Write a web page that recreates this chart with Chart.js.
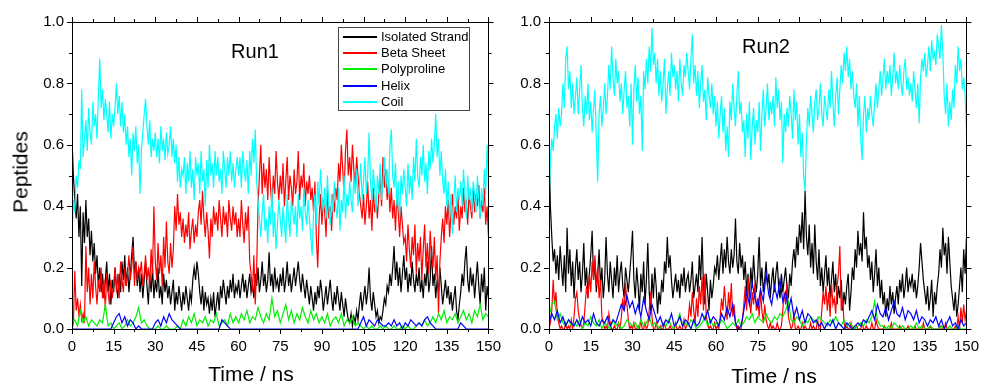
<!DOCTYPE html>
<html>
<head>
<meta charset="utf-8">
<script src="https://cdn.jsdelivr.net/npm/chart.js@4.4.1/dist/chart.umd.min.js"></script>
<style>
    body { margin: 0; background: #fff; font-family: "Liberation Sans", Arial, sans-serif; }
    #wrap { position: relative; width: 988px; height: 385px; overflow: hidden; }
    .panel { position: absolute; top: 0; height: 385px; }
    .txt { position: absolute; color: #000; white-space: nowrap; }
    .axis-title { font-size: 21px; line-height: 21px; transform: translateX(-50%); }
    .run { font-size: 20px; line-height: 20px; transform: translateX(-50%); }
    #ylab { left: 20px; top: 172px; font-size: 21px; line-height: 21px; transform: translate(-50%, -50%) rotate(-90deg); }
    #legend { position: absolute; left: 338px; top: 27px; width: 130px; height: 82px; border: 1.5px solid #444; background: #fff; }
    .row { position: absolute; left: 4px; width: 124px; height: 16px; font-size: 13px; line-height: 16px; white-space: nowrap; }
    .row i { position: absolute; left: 0; top: 7px; width: 34px; height: 1.5px; }
    .row span { position: absolute; left: 38px; top: 0; white-space: nowrap; }
</style>
</head>
<body>
<div id="wrap">
    <div class="panel" style="left:0;width:510px"><canvas id="run1"></canvas></div>
    <div class="panel" style="left:500px;width:488px"><canvas id="run2"></canvas></div>

    <div class="txt" id="ylab">Peptides</div>
    <div class="txt axis-title" style="left:251px;top:363px">Time / ns</div>
    <div class="txt axis-title" style="left:774px;top:365px">Time / ns</div>
    <div class="txt run" style="left:255px;top:41px">Run1</div>
    <div class="txt run" style="left:766px;top:36px">Run2</div>

    <div id="legend">
        <div class="row" style="top:1px"><i style="background:#000"></i><span>Isolated Strand</span></div>
        <div class="row" style="top:17px"><i style="background:#ff0000"></i><span>Beta Sheet</span></div>
        <div class="row" style="top:33px"><i style="background:#00ee00"></i><span>Polyproline</span></div>
        <div class="row" style="top:50px"><i style="background:#0000ff"></i><span>Helix</span></div>
        <div class="row" style="top:66px"><i style="background:#00ffff"></i><span>Coil</span></div>
    </div>
</div>

<script>
// sampling: strand / sheet / coil every 0.5 ns, polyproline / helix every 1 ns
const timeFine = Array.from({ length: 301 }, (_, i) => i * 0.5);
const timeCoarse = Array.from({ length: 151 }, (_, i) => i);

const seriesNames = ['Isolated Strand', 'Beta Sheet', 'Polyproline', 'Helix', 'Coil'];
const seriesColors = ['#000000', '#ff0000', '#00ee00', '#0000ff', '#00ffff'];

// ---- Run1 ----
const run1Strand = [
    0.62,0.50,0.42,0.36,0.44,0.30,0.40,0.14,0.38,0.28,
    0.42,0.30,0.36,0.24,0.32,0.22,0.28,0.18,0.24,0.14,
    0.20,0.12,0.18,0.10,0.16,0.22,0.12,0.18,0.08,0.16,
    0.12,0.20,0.14,0.10,0.18,0.12,0.22,0.16,0.24,0.14,
    0.20,0.12,0.18,0.24,0.30,0.18,0.22,0.14,0.20,0.12,
    0.18,0.10,0.16,0.22,0.14,0.08,0.18,0.12,0.20,0.10,
    0.16,0.12,0.20,0.10,0.14,0.08,0.18,0.12,0.16,0.10,
    0.14,0.08,0.12,0.16,0.06,0.12,0.08,0.14,0.10,0.06,
    0.12,0.08,0.14,0.10,0.06,0.12,0.09,0.16,0.20,0.16,
    0.22,0.18,0.12,0.08,0.14,0.06,0.12,0.08,0.10,0.05,
    0.10,0.06,0.12,0.04,0.08,0.12,0.06,0.14,0.10,0.16,
    0.12,0.08,0.14,0.10,0.16,0.12,0.18,0.10,0.14,0.12,
    0.16,0.10,0.14,0.18,0.12,0.16,0.10,0.14,0.18,0.12,
    0.15,0.10,0.18,0.14,0.20,0.12,0.16,0.22,0.14,0.18,
    0.12,0.16,0.25,0.14,0.18,0.12,0.20,0.14,0.16,0.12,
    0.18,0.14,0.20,0.12,0.16,0.22,0.14,0.18,0.12,0.16,
    0.20,0.14,0.18,0.22,0.16,0.12,0.18,0.14,0.10,0.16,
    0.12,0.08,0.14,0.10,0.06,0.12,0.08,0.14,0.10,0.16,
    0.12,0.06,0.10,0.14,0.08,0.12,0.16,0.10,0.06,0.12,
    0.08,0.14,0.10,0.06,0.12,0.08,0.04,0.10,0.06,0.03,
    0.02,0.05,0.01,0.04,0.02,0.06,0.03,0.08,0.12,0.06,
    0.10,0.14,0.08,0.12,0.20,0.10,0.06,0.12,0.08,0.04,
    0.06,0.02,0.04,0.03,0.06,0.10,0.08,0.14,0.12,0.18,
    0.14,0.20,0.27,0.16,0.22,0.14,0.20,0.12,0.18,0.24,
    0.16,0.20,0.12,0.18,0.14,0.22,0.16,0.12,0.18,0.14,
    0.20,0.12,0.16,0.10,0.18,0.14,0.22,0.12,0.16,0.27,
    0.14,0.18,0.10,0.16,0.12,0.20,0.14,0.08,0.12,0.16,
    0.10,0.14,0.08,0.12,0.06,0.10,0.14,0.06,0.03,0.08,
    0.12,0.18,0.14,0.22,0.27,0.16,0.12,0.20,0.14,0.18,
    0.10,0.16,0.22,0.14,0.08,0.18,0.12,0.20,0.06,0.14,
    0.10
];
const run1Sheet = [
    0.00,0.02,0.19,0.06,0.10,0.04,0.08,0.03,0.05,0.02,
    0.27,0.12,0.20,0.08,0.18,0.10,0.22,0.14,0.08,0.16,
    0.12,0.20,0.10,0.16,0.06,0.18,0.12,0.08,0.16,0.10,
    0.14,0.20,0.12,0.18,0.10,0.22,0.16,0.12,0.20,0.14,
    0.18,0.24,0.16,0.20,0.27,0.14,0.22,0.16,0.20,0.18,
    0.22,0.14,0.18,0.24,0.16,0.20,0.14,0.26,0.18,0.40,
    0.22,0.16,0.28,0.18,0.24,0.14,0.30,0.20,0.35,0.22,
    0.18,0.28,0.20,0.26,0.40,0.32,0.44,0.34,0.38,0.30,
    0.36,0.28,0.34,0.30,0.38,0.26,0.32,0.36,0.28,0.34,
    0.30,0.38,0.42,0.34,0.45,0.36,0.30,0.38,0.32,0.23,
    0.36,0.30,0.40,0.34,0.38,0.32,0.42,0.36,0.30,0.40,
    0.34,0.38,0.30,0.42,0.36,0.32,0.40,0.34,0.38,0.30,
    0.36,0.30,0.42,0.34,0.28,0.38,0.32,0.40,0.22,0.18,
    0.12,0.24,0.08,0.20,0.40,0.50,0.60,0.44,0.54,0.46,
    0.52,0.42,0.56,0.46,0.40,0.50,0.44,0.58,0.48,0.42,
    0.50,0.44,0.54,0.40,0.48,0.56,0.42,0.50,0.46,0.40,
    0.52,0.44,0.48,0.58,0.42,0.50,0.46,0.54,0.40,0.48,
    0.44,0.50,0.42,0.46,0.38,0.48,0.30,0.20,0.36,0.44,
    0.34,0.42,0.38,0.30,0.46,0.36,0.40,0.32,0.44,0.38,
    0.46,0.42,0.54,0.48,0.60,0.52,0.44,0.58,0.65,0.50,
    0.56,0.48,0.60,0.52,0.46,0.56,0.50,0.44,0.40,0.36,
    0.44,0.34,0.40,0.48,0.36,0.42,0.32,0.46,0.38,0.42,
    0.36,0.44,0.50,0.40,0.56,0.46,0.52,0.42,0.48,0.38,
    0.46,0.36,0.42,0.32,0.44,0.38,0.30,0.40,0.34,0.28,
    0.30,0.22,0.34,0.26,0.20,0.30,0.24,0.34,0.18,0.28,
    0.22,0.30,0.16,0.26,0.34,0.20,0.28,0.18,0.32,0.24,
    0.20,0.30,0.16,0.24,0.05,0.22,0.30,0.36,0.28,0.40,
    0.34,0.42,0.30,0.38,0.44,0.34,0.40,0.36,0.44,0.32,
    0.40,0.36,0.46,0.38,0.42,0.34,0.44,0.40,0.36,0.46,
    0.38,0.44,0.40,0.47,0.36,0.42,0.38,0.46,0.34,0.40,
    0.30
];
const run1Ppii = [
    0.02,0.03,0.01,0.06,0.02,0.04,0.01,0.03,0.02,0.01,
    0.03,0.02,0.08,0.01,0.02,0.00,0.01,0.02,0.00,0.01,
    0.03,0.01,0.02,0.04,0.07,0.02,0.03,0.01,0.00,0.00,
    0.00,0.01,0.00,0.00,0.01,0.00,0.00,0.00,0.01,0.00,
    0.03,0.01,0.04,0.02,0.05,0.01,0.03,0.02,0.04,0.01,
    0.03,0.02,0.05,0.01,0.02,0.03,0.01,0.05,0.02,0.04,
    0.02,0.05,0.03,0.06,0.02,0.04,0.03,0.07,0.04,0.02,
    0.05,0.03,0.10,0.04,0.06,0.02,0.05,0.08,0.03,0.06,
    0.02,0.05,0.03,0.07,0.04,0.02,0.06,0.03,0.05,0.02,
    0.04,0.02,0.05,0.01,0.03,0.04,0.02,0.05,0.01,0.03,
    0.02,0.04,0.01,0.02,0.01,0.00,0.01,0.00,0.01,0.00,
    0.00,0.01,0.00,0.01,0.00,0.00,0.01,0.00,0.00,0.01,
    0.00,0.01,0.00,0.00,0.01,0.02,0.01,0.03,0.01,0.02,
    0.04,0.02,0.05,0.03,0.06,0.02,0.04,0.03,0.05,0.02,
    0.04,0.06,0.03,0.05,0.02,0.06,0.04,0.08,0.03,0.05,
    0.04
];
const run1Helix = [
    0.00,0.00,0.00,0.00,0.00,0.00,0.00,0.00,0.00,0.00,
    0.00,0.00,0.00,0.00,0.00,0.02,0.04,0.05,0.02,0.04,
    0.01,0.03,0.02,0.00,0.01,0.00,0.00,0.00,0.00,0.00,
    0.02,0.03,0.01,0.04,0.02,0.05,0.03,0.02,0.01,0.00,
    0.00,0.00,0.00,0.00,0.00,0.00,0.00,0.00,0.00,0.00,
    0.00,0.00,0.00,0.00,0.03,0.02,0.01,0.00,0.00,0.00,
    0.00,0.00,0.00,0.00,0.00,0.00,0.00,0.00,0.00,0.00,
    0.00,0.00,0.00,0.00,0.00,0.00,0.00,0.00,0.00,0.00,
    0.00,0.00,0.00,0.00,0.00,0.00,0.00,0.00,0.00,0.00,
    0.00,0.00,0.00,0.00,0.00,0.00,0.00,0.00,0.00,0.00,
    0.00,0.00,0.00,0.00,0.02,0.04,0.01,0.03,0.02,0.01,
    0.03,0.02,0.01,0.01,0.02,0.01,0.03,0.01,0.02,0.00,
    0.02,0.01,0.03,0.02,0.01,0.02,0.01,0.03,0.04,0.02,
    0.01,0.00,0.00,0.00,0.00,0.00,0.00,0.00,0.00,0.00,
    0.02,0.01,0.00,0.00,0.00,0.00,0.00,0.00,0.00,0.00,
    0.00
];
const run1Coil = [
    0.30,0.42,0.38,0.50,0.46,0.55,0.52,0.78,0.56,0.62,
    0.68,0.58,0.72,0.64,0.60,0.74,0.66,0.70,0.62,0.76,
    0.88,0.72,0.78,0.68,0.75,0.70,0.64,0.74,0.62,0.70,
    0.66,0.72,0.80,0.70,0.76,0.66,0.74,0.64,0.70,0.60,
    0.66,0.56,0.62,0.50,0.64,0.58,0.66,0.54,0.60,0.44,
    0.58,0.64,0.70,0.75,0.66,0.60,0.68,0.56,0.62,0.58,
    0.64,0.56,0.62,0.54,0.66,0.58,0.62,0.55,0.64,0.57,
    0.60,0.66,0.56,0.62,0.54,0.60,0.48,0.56,0.46,0.52,
    0.50,0.56,0.44,0.54,0.48,0.58,0.46,0.52,0.42,0.56,
    0.50,0.54,0.44,0.58,0.48,0.52,0.40,0.55,0.46,0.60,
    0.50,0.54,0.46,0.58,0.50,0.56,0.48,0.52,0.44,0.58,
    0.52,0.46,0.56,0.50,0.58,0.48,0.54,0.46,0.52,0.56,
    0.50,0.56,0.46,0.58,0.52,0.48,0.55,0.44,0.58,0.50,
    0.62,0.54,0.65,0.48,0.42,0.36,0.30,0.38,0.44,0.32,
    0.36,0.28,0.40,0.34,0.46,0.30,0.38,0.26,0.34,0.42,
    0.36,0.30,0.40,0.34,0.28,0.44,0.36,0.30,0.42,0.38,
    0.34,0.40,0.30,0.44,0.36,0.40,0.32,0.46,0.38,0.34,
    0.42,0.36,0.30,0.24,0.38,0.44,0.34,0.48,0.40,0.52,
    0.44,0.38,0.46,0.36,0.50,0.40,0.34,0.44,0.38,0.48,
    0.40,0.36,0.46,0.32,0.42,0.38,0.50,0.36,0.44,0.40,
    0.48,0.42,0.38,0.50,0.44,0.52,0.40,0.46,0.54,0.42,
    0.48,0.56,0.44,0.50,0.64,0.48,0.42,0.52,0.46,0.38,
    0.50,0.44,0.54,0.42,0.48,0.56,0.46,0.52,0.44,0.60,
    0.65,0.50,0.46,0.54,0.40,0.48,0.36,0.50,0.44,0.52,
    0.46,0.40,0.54,0.44,0.50,0.42,0.56,0.48,0.62,0.50,
    0.46,0.56,0.50,0.60,0.48,0.54,0.44,0.58,0.52,0.62,
    0.54,0.60,0.70,0.56,0.62,0.50,0.58,0.48,0.44,0.52,
    0.40,0.48,0.36,0.44,0.31,0.42,0.50,0.38,0.46,0.42,
    0.48,0.40,0.52,0.44,0.36,0.50,0.42,0.46,0.38,0.48,
    0.44,0.38,0.50,0.42,0.36,0.46,0.40,0.52,0.44,0.60,
    0.48
];

// ---- Run2 ----
const run2Strand = [
    0.60,0.40,0.30,0.22,0.26,0.18,0.24,0.16,0.27,0.20,
    0.14,0.24,0.12,0.33,0.18,0.26,0.14,0.22,0.10,0.20,
    0.26,0.16,0.22,0.12,0.18,0.28,0.14,0.20,0.10,0.18,
    0.24,0.32,0.16,0.22,0.12,0.18,0.26,0.14,0.20,0.10,
    0.16,0.30,0.18,0.12,0.22,0.16,0.10,0.20,0.14,0.24,
    0.12,0.18,0.22,0.14,0.10,0.20,0.16,0.12,0.18,0.24,
    0.32,0.16,0.10,0.20,0.14,0.06,0.18,0.12,0.22,0.08,
    0.16,0.28,0.12,0.06,0.18,0.10,0.20,0.14,0.05,0.12,
    0.08,0.16,0.12,0.22,0.18,0.30,0.20,0.24,0.16,0.10,
    0.14,0.18,0.12,0.16,0.10,0.18,0.14,0.20,0.12,0.16,
    0.18,0.12,0.16,0.22,0.10,0.14,0.18,0.12,0.24,0.16,
    0.30,0.14,0.08,0.18,0.12,0.06,0.16,0.10,0.14,0.20,
    0.18,0.24,0.16,0.22,0.28,0.18,0.26,0.20,0.30,0.22,
    0.18,0.26,0.20,0.24,0.36,0.22,0.18,0.28,0.20,0.24,
    0.16,0.22,0.12,0.18,0.10,0.20,0.14,0.24,0.16,0.12,
    0.18,0.30,0.14,0.20,0.12,0.16,0.22,0.14,0.18,0.10,
    0.16,0.20,0.12,0.18,0.22,0.14,0.10,0.18,0.12,0.16,
    0.20,0.14,0.10,0.18,0.14,0.22,0.26,0.20,0.30,0.24,
    0.34,0.28,0.38,0.26,0.45,0.30,0.24,0.34,0.20,0.28,
    0.18,0.34,0.22,0.16,0.26,0.14,0.20,0.12,0.18,0.24,
    0.14,0.20,0.10,0.16,0.22,0.12,0.18,0.08,0.14,0.10,
    0.16,0.06,0.12,0.08,0.14,0.18,0.06,0.12,0.20,0.16,
    0.26,0.20,0.32,0.24,0.28,0.22,0.38,0.26,0.30,0.20,
    0.24,0.16,0.22,0.12,0.18,0.26,0.14,0.20,0.10,0.16,
    0.08,0.12,0.04,0.10,0.06,0.14,0.08,0.12,0.05,0.10,
    0.14,0.08,0.16,0.12,0.18,0.10,0.14,0.20,0.12,0.16,
    0.14,0.18,0.12,0.16,0.10,0.14,0.20,0.28,0.22,0.16,
    0.12,0.08,0.14,0.06,0.10,0.16,0.04,0.12,0.08,0.14,
    0.18,0.26,0.20,0.33,0.24,0.28,0.18,0.30,0.22,0.14,
    0.10,0.06,0.12,0.04,0.08,0.14,0.20,0.12,0.26,0.18,
    0.30
];
const run2Sheet = [
    0.00,0.02,0.06,0.16,0.08,0.12,0.04,0.02,0.00,0.01,
    0.00,0.00,0.02,0.00,0.01,0.00,0.03,0.00,0.04,0.10,
    0.12,0.06,0.03,0.01,0.00,0.02,0.08,0.14,0.10,0.18,
    0.12,0.22,0.16,0.24,0.14,0.20,0.10,0.16,0.04,0.02,
    0.00,0.01,0.00,0.05,0.02,0.00,0.00,0.01,0.00,0.00,
    0.02,0.00,0.04,0.10,0.06,0.15,0.08,0.03,0.00,0.01,
    0.00,0.02,0.00,0.00,0.01,0.00,0.03,0.00,0.00,0.02,
    0.00,0.01,0.06,0.12,0.04,0.00,0.00,0.02,0.00,0.00,
    0.01,0.00,0.00,0.02,0.00,0.00,0.00,0.01,0.00,0.00,
    0.00,0.02,0.00,0.00,0.01,0.00,0.00,0.03,0.00,0.01,
    0.03,0.08,0.04,0.12,0.06,0.02,0.10,0.04,0.14,0.08,
    0.17,0.06,0.18,0.04,0.02,0.00,0.01,0.00,0.00,0.02,
    0.00,0.01,0.00,0.04,0.10,0.06,0.14,0.08,0.03,0.12,
    0.06,0.15,0.04,0.08,0.02,0.00,0.01,0.00,0.00,0.03,
    0.08,0.14,0.06,0.17,0.10,0.05,0.12,0.08,0.15,0.06,
    0.10,0.04,0.12,0.06,0.02,0.08,0.03,0.01,0.00,0.02,
    0.00,0.01,0.00,0.00,0.02,0.00,0.00,0.01,0.06,0.12,
    0.08,0.15,0.04,0.02,0.00,0.01,0.05,0.00,0.00,0.01,
    0.00,0.00,0.02,0.00,0.01,0.00,0.00,0.00,0.02,0.00,
    0.01,0.00,0.00,0.03,0.00,0.00,0.06,0.12,0.08,0.14,
    0.06,0.12,0.04,0.15,0.08,0.10,0.05,0.14,0.18,0.27,
    0.06,0.10,0.02,0.00,0.01,0.00,0.00,0.02,0.00,0.00,
    0.00,0.01,0.00,0.00,0.00,0.02,0.00,0.00,0.01,0.00,
    0.00,0.00,0.02,0.00,0.00,0.03,0.01,0.00,0.00,0.00,
    0.00,0.01,0.00,0.00,0.00,0.00,0.02,0.00,0.00,0.00,
    0.00,0.00,0.01,0.00,0.00,0.00,0.00,0.00,0.01,0.00,
    0.00,0.00,0.00,0.01,0.00,0.00,0.00,0.00,0.00,0.02,
    0.00,0.00,0.00,0.00,0.01,0.00,0.00,0.00,0.00,0.00,
    0.00,0.01,0.00,0.00,0.00,0.02,0.00,0.00,0.00,0.00,
    0.00,0.00,0.01,0.00,0.04,0.00,0.07,0.02,0.08,0.03,
    0.06
];
const run2Ppii = [
    0.04,0.08,0.09,0.03,0.05,0.02,0.01,0.03,0.01,0.02,
    0.01,0.03,0.00,0.02,0.01,0.04,0.02,0.01,0.03,0.00,
    0.02,0.01,0.00,0.03,0.01,0.02,0.00,0.01,0.03,0.02,
    0.01,0.02,0.00,0.03,0.01,0.02,0.04,0.01,0.02,0.01,
    0.00,0.02,0.01,0.03,0.01,0.00,0.02,0.05,0.01,0.02,
    0.01,0.03,0.02,0.00,0.01,0.02,0.04,0.01,0.03,0.01,
    0.02,0.01,0.03,0.02,0.00,0.01,0.02,0.01,0.03,0.01,
    0.02,0.04,0.03,0.05,0.02,0.04,0.03,0.02,0.05,0.03,
    0.02,0.04,0.03,0.05,0.04,0.06,0.09,0.03,0.02,0.04,
    0.03,0.01,0.03,0.02,0.04,0.03,0.02,0.04,0.03,0.02,
    0.01,0.03,0.02,0.04,0.02,0.01,0.03,0.01,0.02,0.01,
    0.00,0.01,0.02,0.01,0.03,0.02,0.04,0.09,0.03,0.01,
    0.01,0.00,0.01,0.00,0.02,0.01,0.00,0.01,0.00,0.00,
    0.01,0.00,0.02,0.00,0.01,0.00,0.00,0.01,0.00,0.00,
    0.00,0.01,0.00,0.00,0.01,0.00,0.00,0.01,0.00,0.00,
    0.00
];
const run2Helix = [
    0.02,0.05,0.03,0.06,0.02,0.04,0.01,0.03,0.02,0.01,
    0.03,0.01,0.04,0.02,0.03,0.01,0.05,0.02,0.01,0.03,
    0.02,0.04,0.01,0.03,0.02,0.05,0.08,0.06,0.11,0.07,
    0.09,0.05,0.08,0.04,0.10,0.06,0.03,0.08,0.05,0.02,
    0.04,0.01,0.03,0.02,0.05,0.01,0.02,0.04,0.01,0.03,
    0.02,0.00,0.03,0.01,0.02,0.05,0.03,0.06,0.02,0.04,
    0.03,0.01,0.05,0.03,0.07,0.04,0.08,0.02,0.00,0.01,
    0.06,0.12,0.08,0.15,0.10,0.07,0.13,0.09,0.18,0.11,
    0.08,0.14,0.10,0.16,0.09,0.12,0.06,0.10,0.04,0.07,
    0.03,0.06,0.02,0.05,0.04,0.02,0.03,0.01,0.02,0.00,
    0.02,0.01,0.03,0.00,0.02,0.01,0.00,0.02,0.01,0.00,
    0.01,0.02,0.01,0.03,0.02,0.04,0.06,0.03,0.08,0.05,
    0.04,0.07,0.03,0.06,0.09,0.05,0.04,0.07,0.03,0.06,
    0.05,0.03,0.06,0.02,0.04,0.03,0.01,0.03,0.02,0.04,
    0.01,0.03,0.00,0.02,0.04,0.01,0.02,0.00,0.03,0.01,
    0.02
];
const run2Coil = [
    0.40,0.55,0.62,0.58,0.66,0.70,0.62,0.72,0.66,0.70,
    0.80,0.72,0.88,0.92,0.78,0.84,0.72,0.80,0.70,0.76,
    0.82,0.70,0.78,0.86,0.72,0.66,0.76,0.70,0.80,0.68,
    0.74,0.64,0.72,0.78,0.62,0.48,0.70,0.76,0.66,0.72,
    0.80,0.70,0.76,0.86,0.78,0.92,0.82,0.76,0.88,0.80,
    0.84,0.74,0.80,0.70,0.78,0.84,0.72,0.76,0.66,0.80,
    0.60,0.78,0.86,0.74,0.82,0.70,0.76,0.58,0.84,0.78,
    0.88,0.80,0.92,0.84,0.98,0.86,0.90,0.80,0.88,0.76,
    0.84,0.74,0.80,0.88,0.70,0.78,0.84,0.76,0.90,0.82,
    0.86,0.78,0.84,0.74,0.88,0.80,0.76,0.86,0.82,0.90,
    0.84,0.78,0.88,0.96,0.80,0.86,0.76,0.84,0.72,0.80,
    0.86,0.74,0.78,0.68,0.82,0.76,0.72,0.80,0.70,0.76,
    0.66,0.74,0.62,0.70,0.76,0.64,0.72,0.58,0.66,0.56,
    0.74,0.68,0.80,0.72,0.66,0.76,0.84,0.70,0.74,0.64,
    0.68,0.56,0.70,0.62,0.74,0.55,0.66,0.72,0.60,0.68,
    0.64,0.74,0.58,0.70,0.78,0.66,0.72,0.80,0.68,0.74,
    0.70,0.76,0.66,0.82,0.72,0.78,0.68,0.74,0.54,0.70,
    0.64,0.72,0.66,0.76,0.70,0.62,0.78,0.68,0.74,0.60,
    0.70,0.56,0.64,0.50,0.45,0.62,0.72,0.66,0.76,0.70,
    0.64,0.74,0.78,0.68,0.72,0.80,0.70,0.66,0.76,0.72,
    0.68,0.78,0.72,0.84,0.74,0.66,0.76,0.82,0.70,0.78,
    0.86,0.80,0.90,0.84,0.92,0.82,0.88,0.78,0.84,0.76,
    0.72,0.80,0.66,0.76,0.62,0.55,0.70,0.76,0.64,0.72,
    0.68,0.76,0.70,0.66,0.74,0.80,0.72,0.78,0.84,0.76,
    0.82,0.88,0.78,0.84,0.80,0.86,0.76,0.82,0.90,0.80,
    0.84,0.78,0.86,0.80,0.76,0.84,0.88,0.78,0.82,0.76,
    0.80,0.74,0.84,0.78,0.72,0.80,0.67,0.82,0.88,0.84,
    0.90,0.82,0.86,0.92,0.84,0.94,0.88,0.90,0.86,0.96,
    0.92,0.88,0.99,0.90,0.76,0.70,0.80,0.66,0.74,0.68,
    0.78,0.72,0.86,0.80,0.92,0.84,0.88,0.78,0.82,0.76,
    0.65
];

const xTicks = { min: 0, max: 150, major: 15, minor: 7.5 };
const yTicks = { min: 0, max: 1, major: 0.2, minor: 0.1 };

const tickFont = { family: '"Liberation Sans", Arial, sans-serif', size: 15 };

// box round the plot plus outward major/minor ticks on all four sides
const frameTicks = {
    id: 'frameTicks',
    afterDraw(chart) {
        const { ctx, chartArea: a, scales: { x, y } } = chart;
        ctx.save();
        ctx.strokeStyle = '#000';
        ctx.lineWidth = 1;
        ctx.strokeRect(Math.round(a.left) + 0.5, Math.round(a.top) + 0.5,
            Math.round(a.right - a.left), Math.round(a.bottom - a.top));
        ctx.beginPath();
        for (let v = xTicks.min; v <= xTicks.max + 1e-6; v += xTicks.minor) {
            const len = Math.abs(v % xTicks.major) < 1e-6 ? 5 : 3;
            const px = Math.round(x.getPixelForValue(v)) + 0.5;
            ctx.moveTo(px, a.bottom); ctx.lineTo(px, a.bottom + len);
            ctx.moveTo(px, a.top); ctx.lineTo(px, a.top - len);
        }
        for (let i = 0; i <= 10; i++) {
            const v = yTicks.min + i * yTicks.minor;
            const len = i % 2 === 0 ? 5 : 3;
            const py = Math.round(y.getPixelForValue(v)) + 0.5;
            ctx.moveTo(a.left, py); ctx.lineTo(a.left - len, py);
            ctx.moveTo(a.right, py); ctx.lineTo(a.right + len, py);
        }
        ctx.stroke();
        ctx.restore();
    }
};

function makeDataset(i, times, values) {
    return {
        label: seriesNames[i],
        data: values.map((v, k) => ({ x: times[k], y: v })),
        borderColor: seriesColors[i],
        borderWidth: 1.2,
        pointRadius: 0,
        tension: 0,
        order: 5 - i
    };
}

function makePanel(id, axisWidth, padRight, strand, sheet, ppii, helix, coil) {
    return new Chart(document.getElementById(id), {
        type: 'line',
        data: {
            datasets: [
                makeDataset(0, timeFine, strand),
                makeDataset(1, timeFine, sheet),
                makeDataset(2, timeCoarse, ppii),
                makeDataset(3, timeCoarse, helix),
                makeDataset(4, timeFine, coil)
            ]
        },
        options: {
            responsive: true,
            maintainAspectRatio: false,
            animation: false,
            events: [],
            layout: { padding: { top: 22, right: padRight, bottom: 0, left: 0 } },
            plugins: {
                legend: { display: false },
                tooltip: { enabled: false }
            },
            scales: {
                x: {
                    type: 'linear',
                    min: xTicks.min,
                    max: xTicks.max,
                    grid: { display: false, drawTicks: false },
                    border: { display: false },
                    ticks: { stepSize: xTicks.major, color: '#000', font: tickFont, padding: 9, maxRotation: 0, autoSkip: false },
                    afterFit: s => { s.height = 56; }
                },
                y: {
                    min: yTicks.min,
                    max: yTicks.max,
                    grid: { display: false, drawTicks: false },
                    border: { display: false },
                    ticks: { stepSize: yTicks.major, color: '#000', font: tickFont, padding: 8, callback: v => v.toFixed(1) },
                    afterFit: s => { s.width = axisWidth; }
                }
            }
        },
        plugins: [frameTicks]
    });
}

makePanel('run1', 72, 12, run1Strand, run1Sheet, run1Ppii, run1Helix, run1Coil);
makePanel('run2', 49, 14, run2Strand, run2Sheet, run2Ppii, run2Helix, run2Coil);
</script>
</body>
</html>
